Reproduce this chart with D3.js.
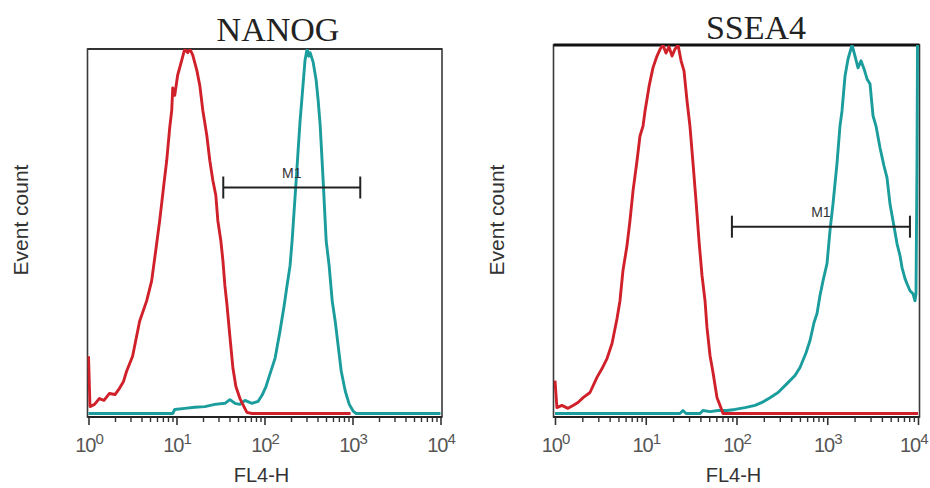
<!DOCTYPE html>
<html>
<head>
<meta charset="utf-8">
<script src="https://cdn.jsdelivr.net/npm/d3@7"></script>
<style>
  html, body { margin: 0; padding: 0; background: #fff; }
  svg { display: block; }
</style>
</head>
<body>
<svg id="chart" width="930" height="488"></svg>
<script>
// ---------------- DATA (intensity FL4-H, event count as % of panel max) ----------------
const panelTitles = ["NANOG", "SSEA4"];
const xAxisTitle = "FL4-H";
const yAxisTitle = "Event count";
const decadeExponents = [0, 1, 2, 3, 4];
const markerLabel = "M1";

// NANOG panel – isotype control (red)
const nanogControl = [
  [1.0, 15.7], [1.04, 1.9], [1.17, 2.5], [1.33, 4.1], [1.5, 3.6], [1.73, 5.5], [2.0, 5.2], [2.25, 6.9],
  [2.5, 8.8], [2.71, 11.6], [3.17, 15.7], [3.81, 25.3], [4.58, 30.9], [5.22, 36.4],
  [5.8, 44.6], [6.44, 52.9], [7.16, 62.5], [7.74, 69.4], [8.38, 78.5], [8.83, 83.2],
  [9.06, 89.3], [9.55, 87.3], [10.3, 92.8], [11.5, 97], [12.4, 100], [13.4, 99],
  [14.2, 100], [15.3, 98.3], [17.0, 94.2], [18.4, 90], [19.9, 83.2], [22.1, 76.3],
  [23.9, 69.4], [25.9, 63.9], [28.0, 59.8], [29.5, 52.9], [31.9, 47.4], [33.7, 41.9],
  [35.5, 35], [37.4, 30], [40.4, 21.2], [43.8, 12.4], [47.3, 7.4], [52.6, 4.1],
  [58.4, 1.9], [63.1, 0.3], [72, 0], [950, 0]
];
// NANOG panel – stained sample (teal)
const nanogStained = [
  [1, 0], [9.06, 0], [9.55, 1.1], [12.4, 1.4], [16.1, 1.7], [21, 1.9], [27.3, 2.5],
  [35.5, 2.8], [40.4, 3.8], [46.1, 2.8], [52.6, 2.5], [60, 3.6], [72, 2.8], [84.4, 3.3],
  [93.7, 5], [104, 7.4], [116, 11], [132, 15.2], [150, 22.6], [167, 29.5], [180, 35],
  [195, 40.5], [206, 47.4], [217, 55.6], [229, 63.9], [241, 72.2], [254, 80.4],
  [268, 87.3], [289, 97], [305, 100], [318, 98], [330, 99], [357, 96.4], [386, 91.5],
  [407, 86], [429, 79.1], [464, 63.9], [502, 47.4], [543, 40.5], [588, 30.9], [636, 25.3],
  [688, 18.5], [745, 11.6], [828, 6.1], [919, 2.5], [1021, 0.6], [1104, 0], [10000, 0]
];
// SSEA4 panel – isotype control (red)
const ssea4Control = [
  [1.0, 8.9], [1.05, 1.6], [1.19, 2.2], [1.39, 1.4], [1.58, 2.2], [1.79, 3], [2.04, 4.3],
  [2.43, 5.7], [2.9, 9.8], [3.3, 12.2], [3.74, 14.9], [4.25, 19], [4.82, 25.7], [5.2, 30.6],
  [5.61, 38.8], [6.21, 45.5], [6.7, 52.3], [7.24, 60.4], [8.01, 68.6], [8.64, 75.3],
  [9.33, 78], [9.82, 82.1], [10.9, 88.9], [12.0, 93.8], [13.3, 97], [14.4, 98.9],
  [15.5, 100], [16.7, 97.8], [18.0, 99.5], [19.5, 97], [21.0, 98.9], [22.7, 100],
  [24.5, 95.7], [26.4, 93], [28.5, 84.8], [30.7, 78], [33.2, 67.8], [35.8, 57.7],
  [38.6, 46.9], [41.7, 37.4], [45.0, 30.6], [47.3, 23.3], [51.1, 15.7], [55.1, 11.1],
  [61.0, 4.3], [65.8, 2.2], [71, 0], [10000, 0]
];
// SSEA4 panel – stained sample (teal)
const ssea4Stained = [
  [1, 0], [23.8, 0], [25.7, 0.8], [27.8, 0], [39.6, 0], [42.7, 0.8], [51, 0.5], [62.5, 0.8],
  [78.6, 0.8], [96.2, 1.1], [124, 1.6], [160, 2.2], [191, 3], [234, 4.3], [287, 5.7],
  [360, 8.1], [441, 10.3], [501, 12.5], [584, 16.5], [646, 19.8], [715, 24.7], [771, 27.1],
  [832, 32], [898, 36], [994, 40.7], [1072, 49.6], [1157, 56.9], [1280, 67.8], [1381, 78],
  [1454, 82.1], [1570, 91.6], [1694, 96.2], [1875, 100], [2023, 97], [2183, 93.8],
  [2356, 95.7], [2543, 93.5], [2744, 90.8], [2961, 89.4], [3195, 80.8], [3447, 78],
  [3813, 72.1], [4218, 67.2], [4552, 64], [4912, 56.9], [5303, 52.3], [5870, 46.1],
  [6339, 42.8], [6668, 39.6], [7194, 36.6], [7566, 35.2], [8166, 33.3], [8811, 32.5],
  [9268, 30.6], [9507, 32.5], [9750, 68.6], [10000, 130]
];
// M1 gates: [start, end] intensity and height (% count)
const nanogGate = [34, 1225];
const nanogGateLevel = 62;
const ssea4Gate = [89, 8150];
const ssea4GateLevel = 50.7;

// ---------------- LAYOUT ----------------
const RED = "#d0212b";
const TEAL = "#1b9d9d";

const panels = [
  { title: panelTitles[0], control: nanogControl, stained: nanogStained, gate: nanogGate, gateLevel: nanogGateLevel,
    frame: { x0: 87.5, x1: 442, y0: 49, y1: 417 }, xr: [88.5, 440.5], yr: [413.5, 49],
    titleX: 278, yLabelX: 21, thickTop: false, lastLabelEnd: false },
  { title: panelTitles[1], control: ssea4Control, stained: ssea4Stained, gate: ssea4Gate, gateLevel: ssea4GateLevel,
    frame: { x0: 553.5, x1: 919.5, y0: 45, y1: 417 }, xr: [555, 918], yr: [413.5, 45],
    titleX: 756, yLabelX: 497, thickTop: true, lastLabelEnd: true }
];

const svg = d3.select("#chart");

panels.forEach((p, i) => {
  const g = svg.append("g");
  const x = d3.scaleLog().domain([1, 10000]).range(p.xr);
  const y = d3.scaleLinear().domain([0, 100]).range(p.yr);
  const f = p.frame;

  // clip
  const clipId = "clip" + i;
  svg.append("clipPath").attr("id", clipId)
    .append("rect").attr("x", f.x0).attr("y", f.y0).attr("width", f.x1 - f.x0).attr("height", f.y1 - f.y0);

  // frame
  g.append("rect")
    .attr("x", f.x0).attr("y", f.y0).attr("width", f.x1 - f.x0).attr("height", f.y1 - f.y0)
    .attr("fill", "none").attr("stroke", "#3a3a3a").attr("stroke-width", 1.6);
  if (p.thickTop) {
    g.append("line").attr("x1", f.x0).attr("x2", f.x1).attr("y1", f.y0).attr("y2", f.y0)
      .attr("stroke", "#111").attr("stroke-width", 3);
  } else {
    g.append("line").attr("x1", f.x0).attr("x2", f.x1).attr("y1", f.y0).attr("y2", f.y0)
      .attr("stroke", "#333").attr("stroke-width", 2);
  }

  // curves
  const line = d3.line().x(d => x(d[0])).y(d => y(d[1])).curve(d3.curveLinear);
  const cg = g.append("g").attr("clip-path", `url(#${clipId})`);
  cg.append("path").datum(p.stained).attr("d", line)
    .attr("fill", "none").attr("stroke", TEAL).attr("stroke-width", 2.9).attr("stroke-linejoin", "round");
  cg.append("path").datum(p.control).attr("d", line)
    .attr("fill", "none").attr("stroke", RED).attr("stroke-width", 2.9).attr("stroke-linejoin", "round");

  // bottom axis line
  g.append("line").attr("x1", f.x0).attr("x2", f.x1).attr("y1", f.y1).attr("y2", f.y1)
    .attr("stroke", "#222").attr("stroke-width", 2);

  // minor ticks
  const minor = x.ticks().filter(v => Math.abs(Math.log10(v) - Math.round(Math.log10(v))) > 1e-6);
  const minorAxis = d3.axisBottom(x).tickValues(minor).tickSize(5).tickFormat("");
  const ma = g.append("g").attr("transform", `translate(0,${f.y1})`).call(minorAxis);
  ma.select(".domain").remove();
  ma.selectAll(".tick line").attr("stroke", "#333").attr("stroke-width", 1.4);

  // major ticks
  const majors = decadeExponents.map(e => Math.pow(10, e));
  const majorAxis = d3.axisBottom(x).tickValues(majors).tickSize(8).tickFormat("");
  const Ma = g.append("g").attr("transform", `translate(0,${f.y1})`).call(majorAxis);
  Ma.select(".domain").remove();
  Ma.selectAll(".tick line").attr("stroke", "#333").attr("stroke-width", 1.6);
  Ma.selectAll(".tick").each(function(d, k) {
    const isLastEnd = p.lastLabelEnd && k === decadeExponents.length - 1;
    const t = d3.select(this).append("text")
      .attr("y", 35)
      .attr("x", isLastEnd ? 9 : 0)
      .attr("text-anchor", isLastEnd ? "end" : "middle")
      .attr("fill", "#555")
      .attr("font-family", "Liberation Sans, Arial, sans-serif")
      .attr("font-size", 20).attr("letter-spacing", "-1px");
    t.append("tspan").text("10");
    t.append("tspan").attr("dy", -8).attr("font-size", 15).text(decadeExponents[k]);
  });

  // x axis title
  g.append("text").attr("x", (p.xr[0] + p.xr[1]) / 2 - 3).attr("y", 482)
    .attr("text-anchor", "middle").attr("fill", "#333")
    .attr("font-family", "Liberation Sans, Arial, sans-serif").attr("font-size", 20)
    .text(xAxisTitle);

  // y axis title
  g.append("text").attr("transform", `translate(${p.yLabelX + 7},220) rotate(-90)`)
    .attr("text-anchor", "middle").attr("fill", "#333")
    .attr("font-family", "Liberation Sans, Arial, sans-serif").attr("font-size", 21)
    .text(yAxisTitle);

  // panel title
  g.append("text").attr("x", p.titleX).attr("y", i === 0 ? 41 : 39)
    .attr("text-anchor", "middle").attr("fill", "#222")
    .attr("font-family", "Liberation Serif, Times New Roman, serif").attr("font-size", 34)
    .text(p.title);

  // M1 gate
  const gy = y(p.gateLevel);
  const gx0 = x(p.gate[0]), gx1 = x(p.gate[1]);
  const mg = g.append("g").attr("stroke", "#222").attr("stroke-width", 2);
  mg.append("line").attr("x1", gx0).attr("x2", gx1).attr("y1", gy).attr("y2", gy);
  mg.append("line").attr("x1", gx0).attr("x2", gx0).attr("y1", gy - 11).attr("y2", gy + 11);
  mg.append("line").attr("x1", gx1).attr("x2", gx1).attr("y1", gy - 11).attr("y2", gy + 11);
  g.append("text").attr("x", (gx0 + gx1) / 2).attr("y", gy - 10)
    .attr("text-anchor", "middle").attr("fill", "#333")
    .attr("font-family", "Liberation Sans, Arial, sans-serif").attr("font-size", 14)
    .text(markerLabel);
});
</script>
</body>
</html>
